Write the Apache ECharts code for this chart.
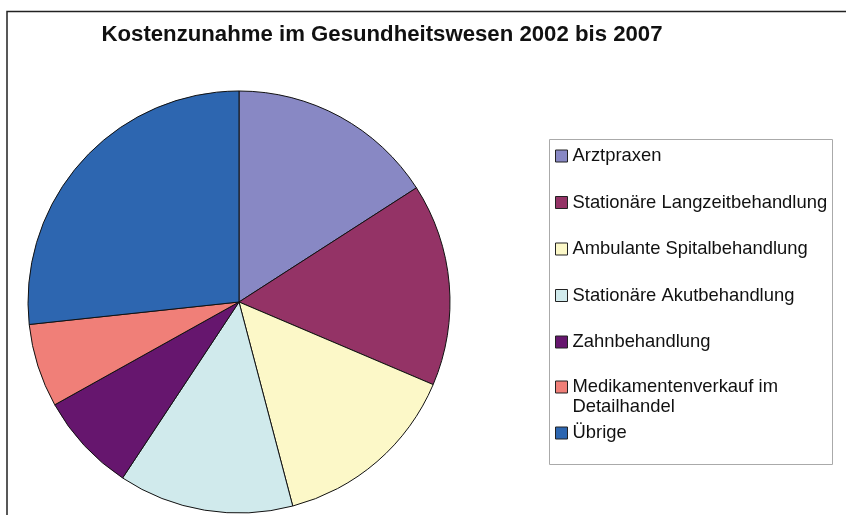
<!DOCTYPE html>
<html>
<head>
<meta charset="utf-8">
<title>Kostenzunahme im Gesundheitswesen</title>
<script src="https://cdn.jsdelivr.net/npm/echarts@6/dist/echarts.min.js"></script>
<style>
  html, body { margin: 0; padding: 0; background: #fff; }
  #chart { width: 846px; height: 515px; }
</style>
</head>
<body>
<div id="chart"></div>
<script>
// Anteile in Prozent
const categories = [
  'Arztpraxen',
  'Stationäre Langzeitbehandlung',
  'Ambulante Spitalbehandlung',
  'Stationäre Akutbehandlung',
  'Zahnbehandlung',
  'Medikamentenverkauf im Detailhandel',
  'Übrige'
]
const values = [15.9, 15.5, 14.5, 13.4, 7.6, 6.4, 26.7]
const colors = ['#8888c4', '#943366', '#fcf8c8', '#d0eaec', '#66166e', '#f07f78', '#2d66b0']

const chart = echarts.init(document.getElementById('chart'))

const legendText = {
  fontFamily: 'Liberation Sans, Arial, sans-serif',
  fontSize: 18.4,
  lineHeight: 20,
  color: '#111'
}

chart.setOption({
  animation: false,
  title: {
    text: 'Kostenzunahme im Gesundheitswesen 2002 bis 2007',
    left: 377,
    top: 19,
    textAlign: 'center',
    textStyle: {
      fontFamily: 'Liberation Sans, Arial, sans-serif',
      fontWeight: 'bold',
      fontSize: 22.2,
      color: '#111'
    }
  },
  graphic: [
    {
      type: 'polyline',
      shape: { points: [[7, 515], [7, 11.5], [846, 11.5]] },
      style: { stroke: '#222', lineWidth: 1.5, fill: null }
    },
    {
      type: 'rect',
      shape: { x: 549.5, y: 139.5, width: 283, height: 325 },
      style: { stroke: '#aaa', lineWidth: 1, fill: '#fff' },
      z: -1
    }
  ],
  legend: [
    {
      // die ersten fünf Einträge
      data: categories.slice(0, 5),
      orient: 'vertical',
      left: 555,
      top: 146,
      padding: 0,
      itemWidth: 12,
      itemHeight: 12,
      itemGap: 26.5,
      icon: 'rect',
      itemStyle: { borderColor: '#222', borderWidth: 1 },
      textStyle: legendText
    },
    {
      // zweizeiliger Eintrag, Symbol auf der ersten Zeile (leere Zeile davor)
      data: categories.slice(5, 6),
      orient: 'vertical',
      left: 555,
      top: 357,
      padding: 0,
      itemWidth: 12,
      itemHeight: 12,
      icon: 'rect',
      itemStyle: { borderColor: '#222', borderWidth: 1 },
      formatter: () => ' \nMedikamentenverkauf im\nDetailhandel',
      textStyle: legendText
    },
    {
      data: categories.slice(6),
      orient: 'vertical',
      left: 555,
      top: 423,
      padding: 0,
      itemWidth: 12,
      itemHeight: 12,
      icon: 'rect',
      itemStyle: { borderColor: '#222', borderWidth: 1 },
      textStyle: legendText
    }
  ],
  series: [{
    type: 'pie',
    center: [239, 302],
    radius: 211,
    startAngle: 90,
    clockwise: true,
    label: { show: false },
    labelLine: { show: false },
    emphasis: { disabled: true },
    itemStyle: { borderColor: '#111', borderWidth: 1 },
    data: categories.map((name, i) => ({
      name: name,
      value: values[i],
      itemStyle: { color: colors[i] }
    }))
  }]
})
</script>
</body>
</html>
